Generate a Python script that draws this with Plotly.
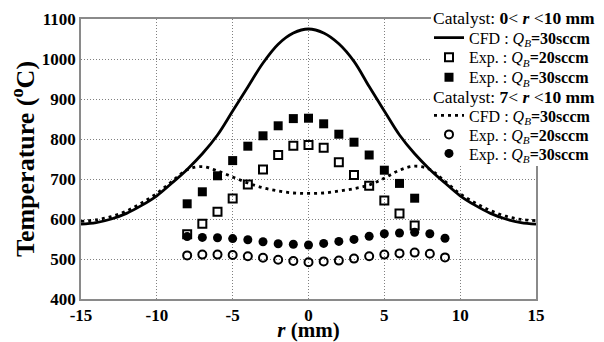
import plotly.graph_objects as go

# ---- data ----
r_cfd = [-15, -14, -13, -12, -11, -10, -9, -8, -7, -6, -5, -4, -3, -2, -1, 0,
         1, 2, 3, 4, 5, 6, 7, 8, 9, 10, 11, 12, 13, 14, 15]
cfd_full = [587, 591, 600, 614, 634, 658, 690, 724, 763, 810, 870, 930, 990, 1037, 1065, 1075,
            1065, 1038, 994, 931, 870, 810, 763, 724, 690, 658, 634, 614, 600, 591, 587]
cfd_ring = [594, 598, 606, 620, 640, 664, 694, 723, 731, 720, 705, 690, 678, 670, 665, 664,
            665, 670, 676, 685, 702, 722, 732, 724, 694, 663, 640, 621, 607, 599, 596]

r_sq = [-8, -7, -6, -5, -4, -3, -2, -1, 0, 1, 2, 3, 4, 5, 6, 7]
exp_full_20 = [562, 588, 618, 651, 686, 724, 760, 783, 785, 778, 742, 710, 683, 646, 614, 584]
exp_full_30 = [638, 668, 708, 746, 782, 808, 833, 851, 852, 838, 812, 792, 760, 722, 689, 652]

r_ci = [-8, -7, -6, -5, -4, -3, -2, -1, 0, 1, 2, 3, 4, 5, 6, 7, 8, 9]
exp_ring_20 = [509, 511, 511, 510, 507, 503, 498, 495, 492, 494, 496, 501, 507, 511, 514, 516, 513, 504]
exp_ring_30 = [556, 554, 553, 551, 548, 543, 538, 537, 535, 539, 544, 549, 557, 563, 565, 567, 563, 552]

x_tickvals = [-15, -10, -5, 0, 5, 10, 15]
x_ticktext = ["-15", "-10", "-5", "0", "5", "10", "15"]
y_tickvals = [400, 500, 600, 700, 800, 900, 1000, 1100]

legend_headers = ["Catalyst: <b>0</b>&lt; <b><i>r</i></b> &lt;<b>10 mm</b>",
                  "Catalyst: <b>7</b>&lt; <b><i>r</i></b> &lt;<b>10 mm</b>"]

FONT = "Liberation Serif"

# figure geometry (pixels)
W, H = 604, 342
ML, MR, MT, MB = 81, 68, 19, 43
PW, PH = W - ML - MR, H - MT - MB


def px_x(px):
    return (px - ML) / PW


def px_y(py):
    return (H - MB - py) / PH


fig = go.Figure()
traces = [
    dict(x=r_cfd, y=cfd_full, mode="lines", line=dict(color="black", width=2.8, shape="spline"),
         name="CFD : <i>Q<sub>B</sub></i><b>=30sccm</b>"),
    dict(x=r_sq, y=exp_full_20, mode="markers",
         marker=dict(symbol="square-open", size=8, color="black", line=dict(width=2, color="black")),
         name="Exp. : <i>Q<sub>B</sub></i><b>=20sccm</b>"),
    dict(x=r_sq, y=exp_full_30, mode="markers",
         marker=dict(symbol="square", size=9, color="black"),
         name="Exp. : <i>Q<sub>B</sub></i><b>=30sccm</b>"),
    dict(x=r_cfd, y=cfd_ring, mode="lines",
         line=dict(color="black", width=2.8, dash="3px,4px", shape="spline"),
         name="CFD : <i>Q<sub>B</sub></i><b>=30sccm</b>"),
    dict(x=r_ci, y=exp_ring_20, mode="markers",
         marker=dict(symbol="circle-open", size=8, color="black", line=dict(width=2, color="black")),
         name="Exp. : <i>Q<sub>B</sub></i><b>=20sccm</b>"),
    dict(x=r_ci, y=exp_ring_30, mode="markers",
         marker=dict(symbol="circle", size=9, color="black"),
         name="Exp. : <i>Q<sub>B</sub></i><b>=30sccm</b>"),
]
legend_names = ["legend", "legend2", "legend3", "legend4", "legend5", "legend6"]
for t, lg in zip(traces, legend_names):
    fig.add_trace(go.Scatter(legend=lg, showlegend=True, **t))

axis_common = dict(showline=True, linecolor="#8a8a8a", linewidth=1.5, mirror=True,
                   showgrid=True, gridcolor="#808080", gridwidth=1, griddash="1px,2px",
                   zeroline=False, ticks="", automargin=False,
                   tickfont=dict(family=FONT, size=17, color="black", weight="bold"))

fig.update_xaxes(range=[-15, 15], tickvals=x_tickvals, ticktext=x_ticktext,
                 title=dict(text="<i>r</i> (mm)", font=dict(family=FONT, size=21, color="black", weight="bold"),
                            standoff=0),
                 **axis_common)
fig.update_yaxes(range=[400, 1100], tickvals=y_tickvals,
                 title=dict(text="Temperature (<sup>o</sup>C)", font=dict(family=FONT, size=26, color="black", weight="bold"),
                            standoff=0),
                 **axis_common)

# legend rows (pixel centres)
item_rows = [37.7, 57.3, 77.3, 115.5, 134.5, 153.5]
header_rows = [18.3, 96.7]

legends = {}
for lg, row in zip(legend_names, item_rows):
    legends[lg] = dict(x=px_x(429), y=px_y(row), xanchor="left", yanchor="middle",
                       bgcolor="rgba(0,0,0,0)", borderwidth=0,
                       font=dict(family=FONT, size=16, color="black"))

annotations = [dict(text=txt, x=px_x(431), y=px_y(row), xref="paper", yref="paper",
                    xanchor="left", yanchor="middle", showarrow=False,
                    font=dict(family=FONT, size=17.5, color="black"))
               for txt, row in zip(legend_headers, header_rows)]

fig.update_layout(
    width=W, height=H,
    margin=dict(l=ML, r=MR, t=MT, b=MB, autoexpand=False),
    plot_bgcolor="white", paper_bgcolor="white",
    showlegend=True,
    annotations=annotations,
    shapes=[dict(type="rect", xref="paper", yref="paper", layer="above",
                 x0=px_x(431), x1=px_x(W), y0=px_y(166), y1=px_y(0),
                 fillcolor="white", line=dict(width=0))],
    **legends,
)

fig.write_html("out.html", config={"displayModeBar": False},
               post_script="document.body.style.margin='0px';document.body.style.overflow='hidden';")
